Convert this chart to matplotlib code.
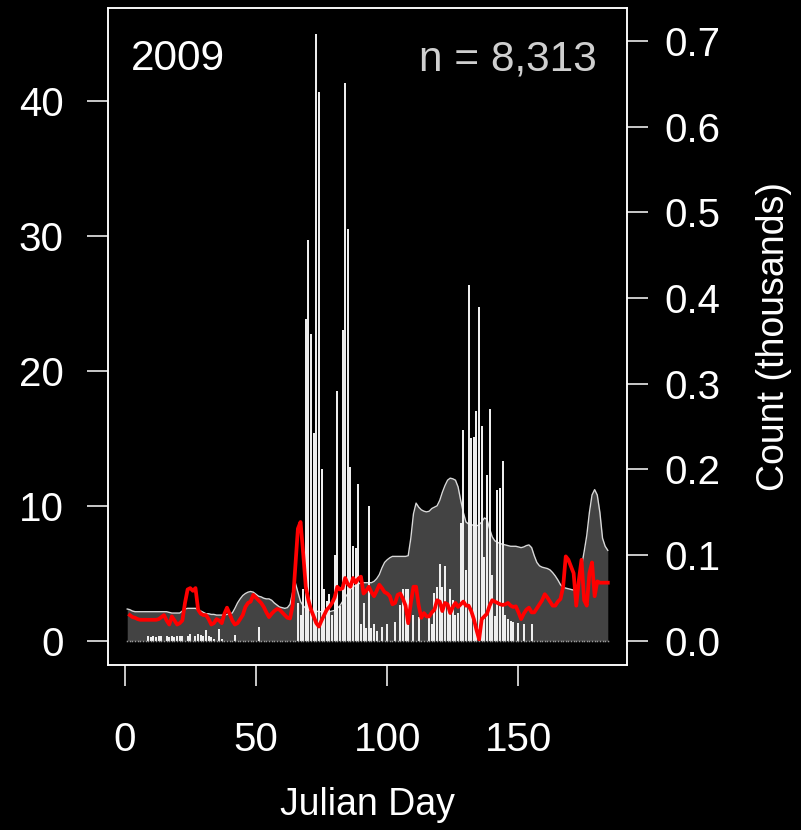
import numpy as np
import matplotlib
matplotlib.use('Agg')
import matplotlib.pyplot as plt

plt.rcParams['font.family'] = ['Liberation Sans', 'DejaVu Sans']

year_label = '2009'
n_label = 'n = 8,313'

first_day = 1
last_day = 184

# daily counts (thousands), right axis
counts = [
    0, 0, 0, 0, 0, 0, 0, 0, 0.005, 0.004,
    0.005, 0.004, 0.005, 0.006, 0, 0.005, 0.004, 0.005, 0.004, 0.005,
    0.005, 0.006, 0, 0.006, 0.008, 0, 0.006, 0.008, 0.007, 0.005,
    0.0125, 0.006, 0.004, 0.002, 0, 0.014, 0.002, 0, 0, 0,
    0, 0.007, 0, 0, 0, 0, 0, 0, 0, 0,
    0.0155, 0, 0, 0, 0, 0, 0, 0, 0, 0,
    0, 0, 0, 0, 0, 0.044, 0.030, 0.060, 0.375, 0.468,
    0.358, 0.242, 0.708, 0.640, 0.200, 0.060, 0.046, 0.054, 0.030, 0.100,
    0.291, 0.040, 0.363, 0.651, 0.480, 0.203, 0.110, 0.108, 0.183, 0.020,
    0.044, 0.015, 0.157, 0.015, 0.019, 0.011, 0, 0.016, 0, 0.019,
    0, 0, 0.022, 0, 0.042, 0.060, 0.060, 0.060, 0, 0.030,
    0, 0.028, 0, 0, 0, 0.030, 0.020, 0.056, 0.063, 0.090,
    0.063, 0.087, 0.040, 0.060, 0.048, 0.030, 0.032, 0.137, 0.246, 0.083,
    0.415, 0.236, 0.238, 0.268, 0.389, 0.251, 0.098, 0.193, 0.270, 0.077,
    0.029, 0.176, 0.178, 0.210, 0.030, 0.025, 0.023, 0.022, 0, 0.021,
    0, 0.020, 0, 0, 0.019, 0, 0, 0, 0, 0,
    0, 0, 0, 0, 0, 0, 0, 0, 0, 0,
    0, 0, 0, 0, 0, 0, 0, 0, 0, 0,
    0, 0, 0, 0,
]

# grey band, left axis
band = [
    2.35, 2.3, 2.2, 2.15, 2.15, 2.15, 2.15, 2.15, 2.15, 2.15,
    2.15, 2.15, 2.15, 2.15, 2.15, 2.15, 2.1, 2.05, 2.05, 2.05,
    2.05, 2.2, 2.35, 2.4, 2.4, 2.4, 2.4, 2.3, 2.2, 2.1,
    2.0, 2.0, 1.95, 1.95, 1.9, 1.9, 1.9, 1.9, 1.95, 2.0,
    2.05, 2.4, 2.8, 3.1, 3.35, 3.5, 3.6, 3.65, 3.6, 3.45,
    3.3, 3.25, 3.15, 3.1, 3.1, 3.0, 2.8, 2.65, 2.5, 2.45,
    2.4, 2.45, 2.7, 3.6, 4.3, 3.6, 2.9, 2.6, 2.4, 2.3,
    2.25, 2.2, 2.2, 2.15, 2.15, 2.15, 2.15, 2.15, 2.2, 2.25,
    2.4, 2.6, 2.9, 3.2, 3.5, 3.8, 4.0, 4.1, 4.2, 4.3,
    4.3, 4.3, 4.3, 4.3, 4.4, 4.6, 4.9, 5.4, 5.8, 6.0,
    6.15, 6.25, 6.25, 6.25, 6.25, 6.25, 6.25, 6.3, 7.6, 9.4,
    10.2, 9.9, 9.7, 9.6, 9.55, 9.6, 9.8, 9.9, 10.0, 10.4,
    11.0, 11.5, 11.9, 12.05, 12.0, 11.9, 11.4, 10.4, 9.5, 8.8,
    8.65, 8.6, 8.55, 8.5, 8.6, 8.8, 9.1, 9.0, 8.3, 7.7,
    7.4, 7.3, 7.2, 7.15, 7.1, 7.05, 7.0, 7.0, 7.0, 6.95,
    6.9, 6.95, 7.05, 7.1, 6.9, 6.3, 5.8, 5.55, 5.45, 5.4,
    5.35, 5.25, 5.05, 4.8, 4.5, 4.15, 3.95, 3.9, 3.85, 3.8,
    3.75, 3.75, 4.4, 5.5, 6.6, 7.8, 9.5, 10.8, 11.2, 10.8,
    9.5, 7.6, 7.0, 6.7,
]

# red series, left axis, starts on day 2
red = [
    1.9, 1.75, 1.7, 1.6, 1.55, 1.55, 1.55, 1.55, 1.55, 1.55,
    1.55, 1.6, 1.75, 1.9, 1.5, 1.2, 1.8, 1.5, 1.2, 1.3,
    1.5, 2.8, 3.8, 3.9, 3.7, 3.9, 2.3, 2.0, 1.9, 1.9,
    1.6, 1.2, 1.3, 1.6, 1.5, 1.3, 2.0, 2.45, 2.0, 1.5,
    1.2, 1.3, 1.6, 1.9, 2.5, 2.8, 2.9, 3.4, 3.2, 3.0,
    2.8, 2.5, 2.1, 1.75, 2.0, 2.2, 2.35, 2.3, 2.1, 1.9,
    1.7, 1.65, 2.6, 5.5, 8.3, 8.8, 6.5, 4.0, 3.0, 2.3,
    1.8, 1.3, 1.05, 1.5, 1.9, 2.3, 2.5, 2.8, 3.2, 4.0,
    3.8, 3.9, 4.65, 4.2, 4.0, 4.65, 4.3, 4.6, 4.75, 3.5,
    3.7, 4.0, 3.6, 3.3, 3.7, 4.15, 3.9, 3.6, 3.5, 3.3,
    2.7, 2.8, 3.4, 3.5, 3.1, 2.6, 1.3, 2.8, 4.0, 4.0,
    2.6, 1.7, 2.05, 1.8, 1.8, 2.1, 2.3, 3.0, 2.9, 2.2,
    2.8, 2.7, 2.05, 2.5, 2.8, 2.5, 2.7, 2.9, 2.6, 2.6,
    2.2, 1.6, 0.8, 0.1, 1.6, 1.8, 2.0, 2.6, 3.0, 2.9,
    2.8, 2.7, 2.65, 2.7, 2.8, 2.6, 2.5, 2.55, 2.1, 1.6,
    2.0, 2.3, 2.45, 2.1, 2.1, 2.4, 2.7, 3.0, 3.45, 3.2,
    2.9, 2.6, 2.6, 2.9, 3.1, 4.0, 6.25, 6.0, 5.5, 5.0,
    2.6, 4.5, 6.0, 3.0, 2.6, 5.0, 5.8, 3.3, 4.4, 4.3,
    4.3, 4.3, 4.3,
]

days = np.arange(first_day, last_day + 1)

fig = plt.figure(figsize=(8.01, 8.30), dpi=100, facecolor='black')
ax = fig.add_axes([108 / 801, 1 - 665 / 830, 519 / 801, 657 / 830])
ax.set_facecolor('black')

# grey band with light outline
ax.fill_between(days, 0, band, color='#434343', lw=0, zorder=1)
ax.plot(days, band, color='#d8d8d8', lw=1.0, zorder=2)

# daily counts as thin spikes, zero days leave a dot on the baseline
ax2 = ax.twinx()
ax2.vlines(days, 0, counts, color='#f4f4f4', lw=1.4)
ax2.plot(days, np.zeros_like(days, dtype=float), ls='none', marker='s',
         ms=1.1, mec='none', mfc='#9a9a9a')

# red series on top
ax3 = ax.twinx()
ax3.plot(days[1:], red, color='#ff0000', lw=2.7, solid_joinstyle='round')

span = last_day - first_day
ax.set_xlim(first_day - 0.04 * span, last_day + 0.04 * span)
ax.set_ylim(-1.8, 46.9)
ax3.set_ylim(ax.get_ylim())
ax2.set_ylim(-0.0284, 0.7384)

for a in (ax, ax2, ax3):
    for s in a.spines.values():
        s.set_color('white')
        s.set_linewidth(1.1)

ax3.axis('off')

tick_style = dict(colors='white', labelcolor='white', labelsize=29,
                  length=15, width=1.1, direction='out')
ax.set_xticks([0, 50, 100, 150])
ax.tick_params(axis='x', pad=25, **tick_style)
ax.set_yticks([0, 10, 20, 30, 40])
ax.tick_params(axis='y', pad=17, **tick_style)
right_ticks = [0.0, 0.1, 0.2, 0.3, 0.4, 0.5, 0.6, 0.7]
ax2.set_yticks(right_ticks)
ax2.set_yticklabels(['%.1f' % v for v in right_ticks])
ax2.tick_params(axis='y', pad=12, **tick_style)

ax.text(0.044, 0.922, year_label, transform=ax.transAxes, color='white',
        fontsize=30.5, ha='left', va='center')
ax.text(0.942, 0.922, n_label, transform=ax.transAxes, color='#cfcfcf',
        fontsize=30.5, ha='right', va='center')

fig.text(367 / 801, 1 - 805 / 830, 'Julian Day', color='white', fontsize=27,
         ha='center', va='center')
fig.text(774 / 801, 1 - 336 / 830, 'Count (thousands)', color='white',
         fontsize=27, ha='center', va='center', rotation=90)

fig.savefig('out.png', dpi=100, facecolor='black')
